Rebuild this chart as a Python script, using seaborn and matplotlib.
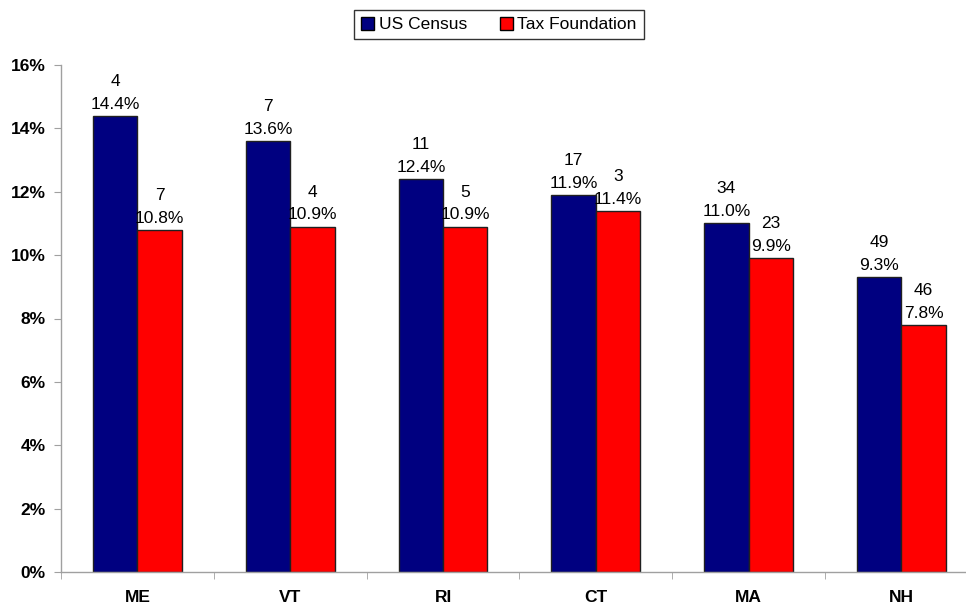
import pandas as pd
import seaborn as sns
import matplotlib.pyplot as plt
from matplotlib.ticker import PercentFormatter, FixedLocator

# Dados do gráfico
states = ["ME", "VT", "RI", "CT", "MA", "NH"]
census_pct = [14.4, 13.6, 12.4, 11.9, 11.0, 9.3]
census_rank = [4, 7, 11, 17, 34, 49]
taxf_pct = [10.8, 10.9, 10.9, 11.4, 9.9, 7.8]
taxf_rank = [7, 4, 5, 3, 23, 46]
series = ["US Census", "Tax Foundation"]
colors = ["#000080", "#FF0000"]

df = pd.DataFrame({
    "state": states * 2,
    "source": [series[0]] * 6 + [series[1]] * 6,
    "pct": census_pct + taxf_pct,
    "rank": census_rank + taxf_rank,
})

sns.set_style("white")
plt.rcParams["font.family"] = ["Liberation Sans", "DejaVu Sans"]
plt.rcParams["text.color"] = "black"
plt.rcParams["xtick.color"] = "black"
plt.rcParams["ytick.color"] = "black"

W, H = 966, 608
left, bottom_px, top_px = 61, 572, 65
cat_w = 152.8

fig = plt.figure(figsize=(W / 100, H / 100), dpi=100)
ax = fig.add_axes([left / W, (H - bottom_px) / H, (W - left) / W, (bottom_px - top_px) / H])

sns.barplot(data=df, x="state", y="pct", hue="source", palette=colors,
            width=0.58, edgecolor="#202020", linewidth=1, saturation=1,
            ax=ax)

# Rótulos: posição no ranking e percentual
for cont, src in zip(ax.containers, series):
    sub = df[df["source"] == src]
    labels = [f"{r}\n{p:.1f}%" for r, p in zip(sub["rank"], sub["pct"])]
    ax.bar_label(cont, labels=labels, padding=3, fontsize=12.5, linespacing=1.65)

ax.set_ylim(0, 16)
ax.set_yticks(range(0, 17, 2))
ax.yaxis.set_major_formatter(PercentFormatter(decimals=0))
ax.set_xlim(-0.5, -0.5 + (W - left) / cat_w)
ax.set_xlabel("")
ax.set_ylabel("")

for s in ["top", "right"]:
    ax.spines[s].set_visible(False)
for s in ["left", "bottom"]:
    ax.spines[s].set_color("#A0A0A0")
    ax.spines[s].set_linewidth(1)

ax.tick_params(axis="y", which="major", length=5, color="#A0A0A0",
               labelcolor="black", labelsize=12.5, left=True, pad=6)
ax.tick_params(axis="x", which="major", length=0, labelcolor="black",
               labelsize=12.5, pad=13)
ax.xaxis.set_minor_locator(FixedLocator([i + 0.5 for i in range(-1, 6)]))
ax.tick_params(axis="x", which="minor", length=5, color="#A0A0A0", bottom=True)
for lab in ax.get_xticklabels() + ax.get_yticklabels():
    lab.set_fontweight("bold")

# Legenda centrada em x ~ 499 px
leg = ax.legend(title=None, loc="upper center",
                bbox_to_anchor=((499 - left) / (W - left), 1 + (top_px - 10) / (bottom_px - top_px)),
                ncol=2, frameon=True, fancybox=False, fontsize=12.5,
                handlelength=0.75, handleheight=0.75, handletextpad=0.25,
                columnspacing=1.9, borderpad=0.4, borderaxespad=0)
leg.get_frame().set_edgecolor("black")
leg.get_frame().set_linewidth(1)
for h in leg.legend_handles:
    h.set_edgecolor("black")

fig.savefig("out.png", dpi=100)
